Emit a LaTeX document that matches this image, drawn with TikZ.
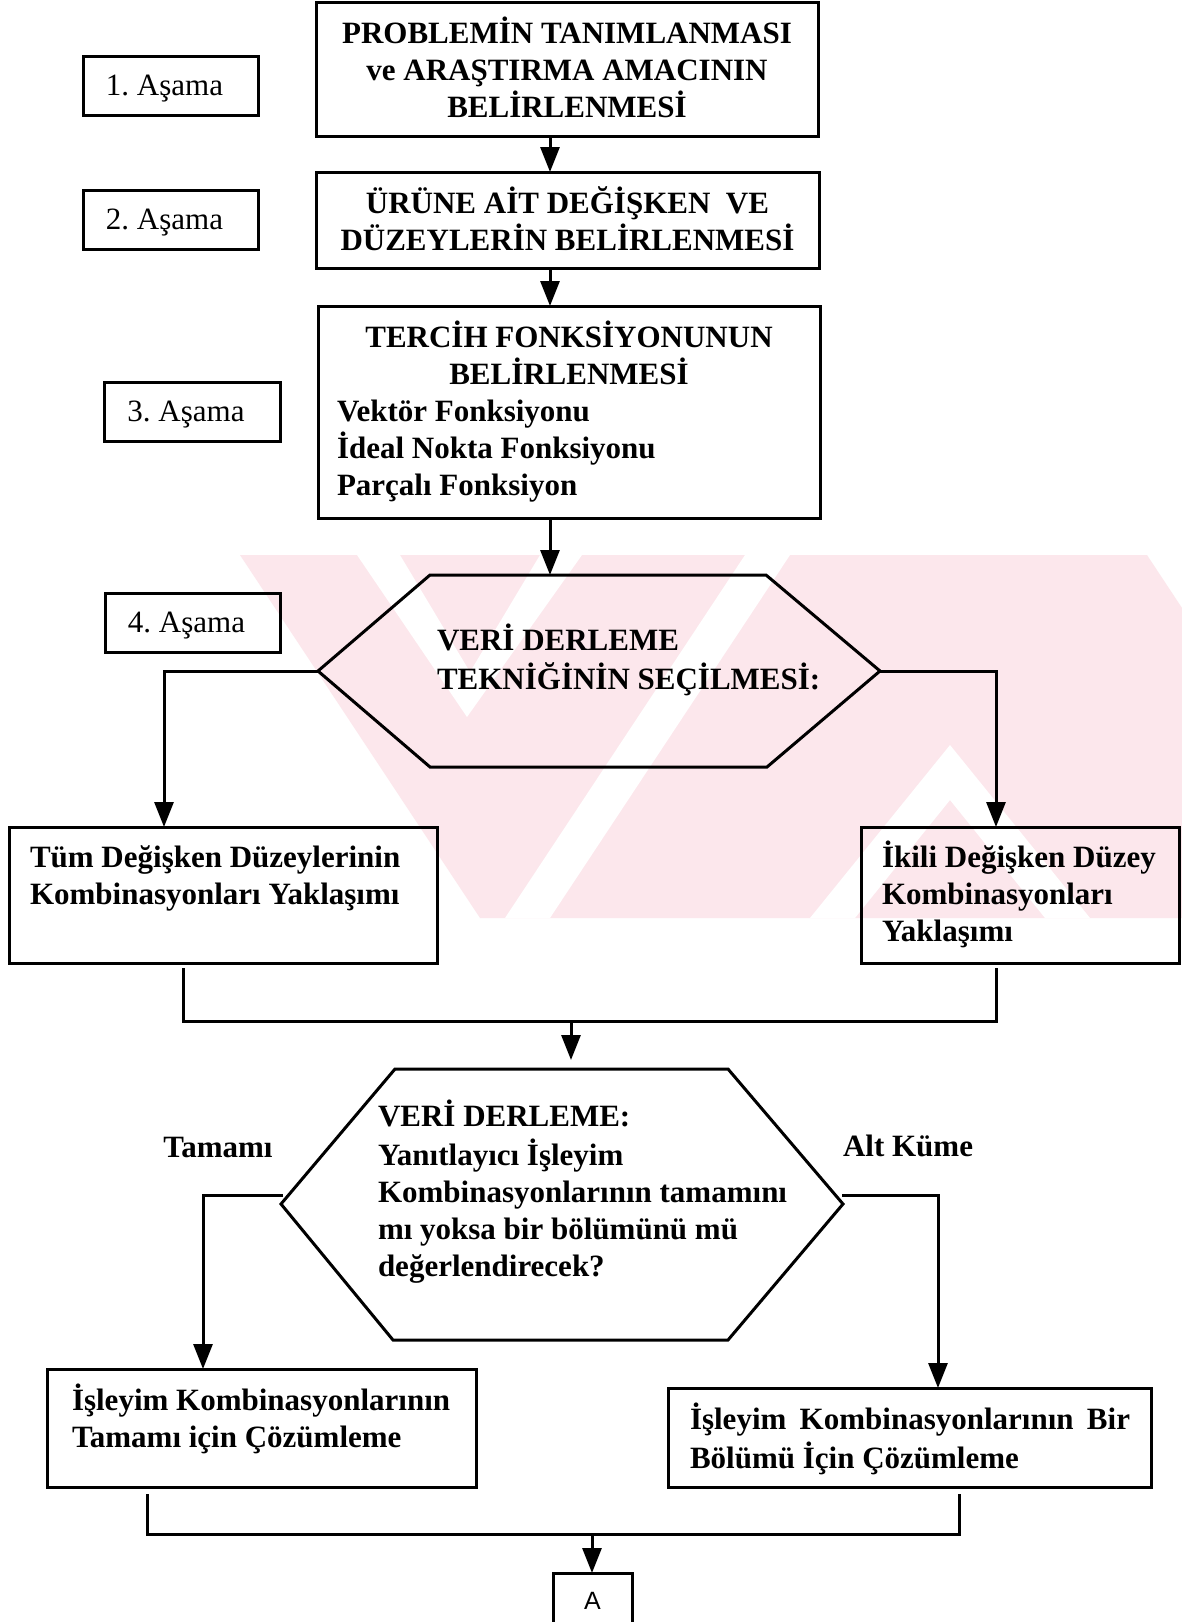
\documentclass[tikz,border=0pt]{standalone}
\usepackage{fontspec}
\setmainfont{Liberation Serif}
\newfontfamily\asans{Liberation Sans}
\usetikzlibrary{arrows.meta,calc}
\definecolor{wmpink}{RGB}{252,231,236}
\begin{document}
\begin{tikzpicture}[x=1pt,y=-1pt,
  every node/.style={inner sep=0pt, outer sep=0pt},
  frame/.style={draw, line width=3pt, rectangle},
  txt/.style={font=\fontsize{31}{37}\selectfont\bfseries},
  lab/.style={font=\fontsize{31}{37}\selectfont, text height=20pt, text depth=0pt},
  conn/.style={line width=3pt},
  arr/.style={line width=3pt, -{Triangle[length=25pt,width=19pt]}},
  wm/.style={fill=wmpink, draw=none},
  wcut/.style={fill=white, draw=none},
]
\useasboundingbox (0,0) rectangle (1182,1622);
\clip (0,0) rectangle (1182,1622);
\fill[white] (0,0) rectangle (1182,1622);

% faint watermark
\fill[wm] (240,555) -- (1147,555) -- (1182,608) -- (1182,918) -- (480,918) -- cycle;
\fill[wcut] (357,555) -- (400,555) -- (470,672) -- (540,555) -- (582,555) -- (467,717) -- cycle;
\fill[wcut] (745,555) -- (790,555) -- (550,918) -- (505,918) -- cycle;
\fill[wcut] (950,745) -- (1090,918) -- (1045,918) -- (950,800) -- (855,918) -- (810,918) -- cycle;

% top boxes
\node[frame, minimum width=502pt, minimum height=134pt, align=center, txt] (b1) at (567,69)
  {\raisebox{3pt}{PROBLEMİN TANIMLANMASI}\\\raisebox{3pt}{ve ARAŞTIRMA AMACININ}\\\raisebox{3pt}{BELİRLENMESİ}};
\node[frame, lab, minimum width=175pt, minimum height=59pt] (s1) at (170.5,85.5) {1.\ Aşama\hspace*{12pt}};

\node[frame, minimum width=503pt, minimum height=96pt, align=center, txt] (b2) at (567.5,220)
  {\raisebox{2pt}{ÜRÜNE AİT DEĞİŞKEN\ \ VE}\\\raisebox{2pt}{DÜZEYLERİN BELİRLENMESİ}};
\node[frame, lab, minimum width=175pt, minimum height=59pt] (s2) at (170.5,219.5) {2.\ Aşama\hspace*{12pt}};

\node[frame, fill=white, minimum width=502pt, minimum height=212pt, align=left, txt] (b3) at (569,412)
  {\makebox[464pt][c]{TERCİH FONKSİYONUNUN}\\\makebox[464pt][c]{BELİRLENMESİ}\\Vektör Fonksiyonu\\İdeal Nokta Fonksiyonu\\Parçalı Fonksiyon};
\node[frame, lab, minimum width=176pt, minimum height=59pt] (s3) at (192,411.5) {3.\ Aşama\hspace*{12pt}};

\coordinate (ax) at (550,0);
\draw[arr] (b1.south -| ax) -- (b2.north -| ax);
\draw[arr] (b2.south -| ax) -- (b3.north -| ax);

% hexagon 1
\coordinate (h1L) at (318,671);
\coordinate (h1TL) at (430,575);
\coordinate (h1TR) at (766,575);
\coordinate (h1R) at (880,671);
\coordinate (h1BR) at (767,767);
\coordinate (h1BL) at (430,767);
\draw[conn, line join=miter] (h1L) -- (h1TL) -- (h1TR) -- (h1R) -- (h1BR) -- (h1BL) -- cycle;
\node[txt, align=left, anchor=west] (h1t) at (437,662) {\strut VERİ DERLEME\\TEKNİĞİNİN SEÇİLMESİ:\strut};
\node[frame, lab, minimum width=175pt, minimum height=59pt] (s4) at (192.5,622.5) {4.\ Aşama\hspace*{12pt}};
\draw[arr] (b3.south -| ax) -- (h1TL -| ax);

% second level boxes
\node[frame, minimum width=428pt, minimum height=136pt] (tum) at (223,895) {};
\node[txt, align=left, anchor=west] (tumt) at (30,879) {\strut Tüm Değişken Düzeylerinin\\Kombinasyonları Yaklaşımı\strut};
\node[frame, minimum width=318pt, minimum height=136pt] (iki) at (1020,895) {};
\node[txt, align=left, anchor=west] (ikit) at (882,897) {\strut İkili Değişken Düzey\\Kombinasyonları\\Yaklaşımı\strut};

\coordinate (c1) at (164,0);
\coordinate (c2) at (996,0);
\draw[arr] (h1L) -| (tum.north -| c1);
\draw[arr] (h1R) -| (iki.north -| c2);

% bracket 1
\coordinate (k1a) at (183,968);
\coordinate (k1L) at (183,1021);
\coordinate (k1R) at (996,1021);
\coordinate (k1b) at (996,968);
\coordinate (k1M) at (571,1021);
\draw[conn] (k1a) -- (k1L) -- (k1R) -- (k1b);

% hexagon 2
\coordinate (h2L) at (281,1204);
\coordinate (h2TL) at (395,1069);
\coordinate (h2TR) at (728,1069);
\coordinate (h2R) at (843,1204);
\coordinate (h2BR) at (728,1340);
\coordinate (h2BL) at (393,1340);
\draw[conn, line join=miter] (h2L) -- (h2TL) -- (h2TR) -- (h2R) -- (h2BR) -- (h2BL) -- cycle;
\node[txt, align=left, anchor=west] (h2t) at (378,1194)
  {\strut VERİ DERLEME:\\Yanıtlayıcı İşleyim\\Kombinasyonlarının tamamını\\mı yoksa bir bölümünü mü\\değerlendirecek?\strut};
\draw[arr, shorten >=9pt] (k1M) -- (k1M |- h2TL);

\node[txt, anchor=base] (tam) at (218,1157) {Tamamı};
\node[txt, anchor=base west] (alt) at (843,1156) {Alt Küme};

% bottom boxes
\node[frame, minimum width=429pt, minimum height=118pt] (is1) at (261.5,1428) {};
\node[txt, align=left, anchor=west] (is1t) at (72,1421) {\strut İşleyim Kombinasyonlarının\\Tamamı için Çözümleme\strut};
\node[frame, minimum width=483pt, minimum height=99pt] (is2) at (909.5,1437.5) {};
\node[txt, align=left, anchor=west] (is2t) at (690,1441)
  {\strut\makebox[440pt][s]{İşleyim Kombinasyonlarının Bir}\\Bölümü İçin Çözümleme\strut};

\coordinate (h2Lc) at (283,1195);
\coordinate (h2Rc) at (842,1195);
\coordinate (c3) at (203,0);
\coordinate (c4) at (938,0);
\draw[arr] (h2Lc) -| (is1.north -| c3);
\draw[arr] (h2Rc) -| (is2.north -| c4);

% bracket 2
\coordinate (k2a) at (147,1494);
\coordinate (k2L) at (147,1534);
\coordinate (k2R) at (959,1534);
\coordinate (k2b) at (959,1494);
\coordinate (k2M) at (592,1534);
\draw[conn] (k2a) -- (k2L) -- (k2R) -- (k2b);

\node[frame, minimum width=79pt, minimum height=74pt] (abox) at (592.5,1610) {};
\node[font=\fontsize{25}{30}\selectfont\asans] (at) at (592.5,1601) {A};
\draw[arr] (k2M) -- (abox.north -| k2M);
\end{tikzpicture}
\end{document}
